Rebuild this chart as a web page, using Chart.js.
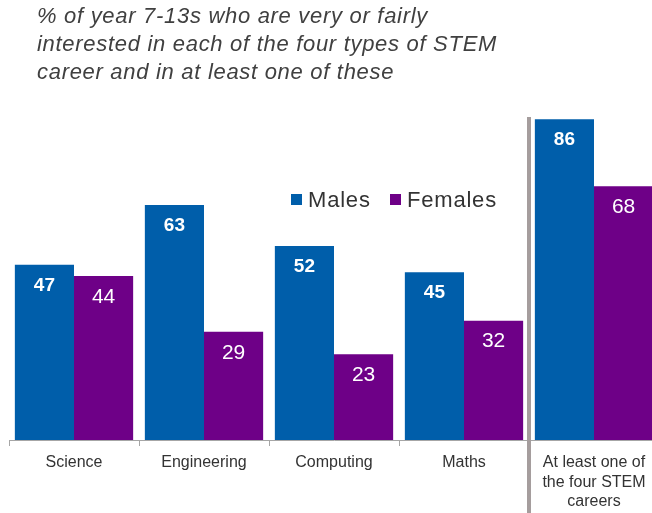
<!DOCTYPE html>
<html>
<head>
    <style>
        body { margin: 0; overflow: hidden; background: #fff; }
        #container { width: 660px; height: 513px; }
    </style>
    <title>STEM career interest</title>
</head>
<body>
    <div id="container">
        <canvas id="canvas" width="660" height="513"></canvas>
    </div>
    <script src="https://cdn.jsdelivr.net/npm/chart.js@4/dist/chart.umd.min.js"></script>
    <script>
        var categories = ['Science', 'Engineering', 'Computing', 'Maths', ['At least one of', 'the four STEM', 'careers']];
        var males = [47, 63, 52, 45, 86];
        var females = [44, 29, 23, 32, 68];
        var titleLines = [
            '% of year 7-13s who are very or fairly',
            'interested in each of the four types of STEM',
            'career and in at least one of these'
        ];

        var FONT = '"Liberation Sans", Arial, sans-serif';

        // title, legend, value labels and the divider line
        var extras = {
            id: 'extras',
            afterDraw: function(chart) {
                var ctx = chart.ctx;
                var x = chart.scales.x;
                ctx.save();

                // divider before the last group
                var sep = (x.getPixelForTick(3) + x.getPixelForTick(4)) / 2;
                ctx.strokeStyle = '#a59d9d';
                ctx.lineWidth = 4;
                ctx.beginPath();
                ctx.moveTo(sep, 117);
                ctx.lineTo(sep, chart.height);
                ctx.stroke();

                // title
                ctx.fillStyle = '#404040';
                ctx.font = 'italic 22px ' + FONT;
                ctx.letterSpacing = '0.7px';
                ctx.textAlign = 'left';
                ctx.textBaseline = 'alphabetic';
                titleLines.forEach(function(t, i) {
                    ctx.fillText(t, 37, 23 + i * 28);
                });

                // value labels
                ctx.letterSpacing = '0px';
                ctx.fillStyle = '#fff';
                ctx.textAlign = 'center';
                ctx.textBaseline = 'middle';
                chart.data.datasets.forEach(function(ds, di) {
                    var meta = chart.getDatasetMeta(di);
                    ctx.font = (di === 0 ? 'bold 19px ' : '21px ') + FONT;
                    meta.data.forEach(function(bar, i) {
                        ctx.fillText(ds.data[i], bar.x, bar.y + (di === 0 ? 21 : 21));
                    });
                });

                // legend
                var lx = [291, 390];
                ctx.font = '22px ' + FONT;
                ctx.letterSpacing = '0.8px';
                ctx.textAlign = 'left';
                chart.data.datasets.forEach(function(ds, di) {
                    ctx.fillStyle = ds.backgroundColor;
                    ctx.fillRect(lx[di], 194, 11, 11);
                    ctx.fillStyle = '#333';
                    ctx.fillText(ds.label, lx[di] + 17, 201);
                });
                ctx.restore();
            }
        };

        var ctx = document.getElementById('canvas').getContext('2d');
        window.myBarChart = new Chart(ctx, {
            type: 'bar',
            data: {
                labels: categories,
                datasets: [{
                    label: 'Males',
                    data: males,
                    backgroundColor: '#005eaa'
                }, {
                    label: 'Females',
                    data: females,
                    backgroundColor: '#6e0087'
                }]
            },
            options: {
                responsive: false,
                animation: false,
                devicePixelRatio: 1,
                categoryPercentage: 0.91,
                barPercentage: 1,
                layout: {
                    padding: { left: 9, right: 1, top: 67, bottom: 0 }
                },
                plugins: {
                    legend: { display: false },
                    title: { display: false },
                    tooltip: { enabled: false }
                },
                scales: {
                    x: {
                        grid: {
                            display: true,
                            drawOnChartArea: false,
                            tickLength: 6,
                            color: '#a6a6a6'
                        },
                        border: { display: true, color: '#a6a6a6' },
                        ticks: {
                            color: '#333',
                            padding: 7,
                            maxRotation: 0,
                            autoSkip: false,
                            font: { family: FONT, size: 16, lineHeight: 1.22 }
                        },
                        afterFit: function(scale) { scale.height = 73; }
                    },
                    y: {
                        display: false,
                        min: 0,
                        max: 100
                    }
                }
            },
            plugins: [extras]
        });
    </script>
</body>
</html>
